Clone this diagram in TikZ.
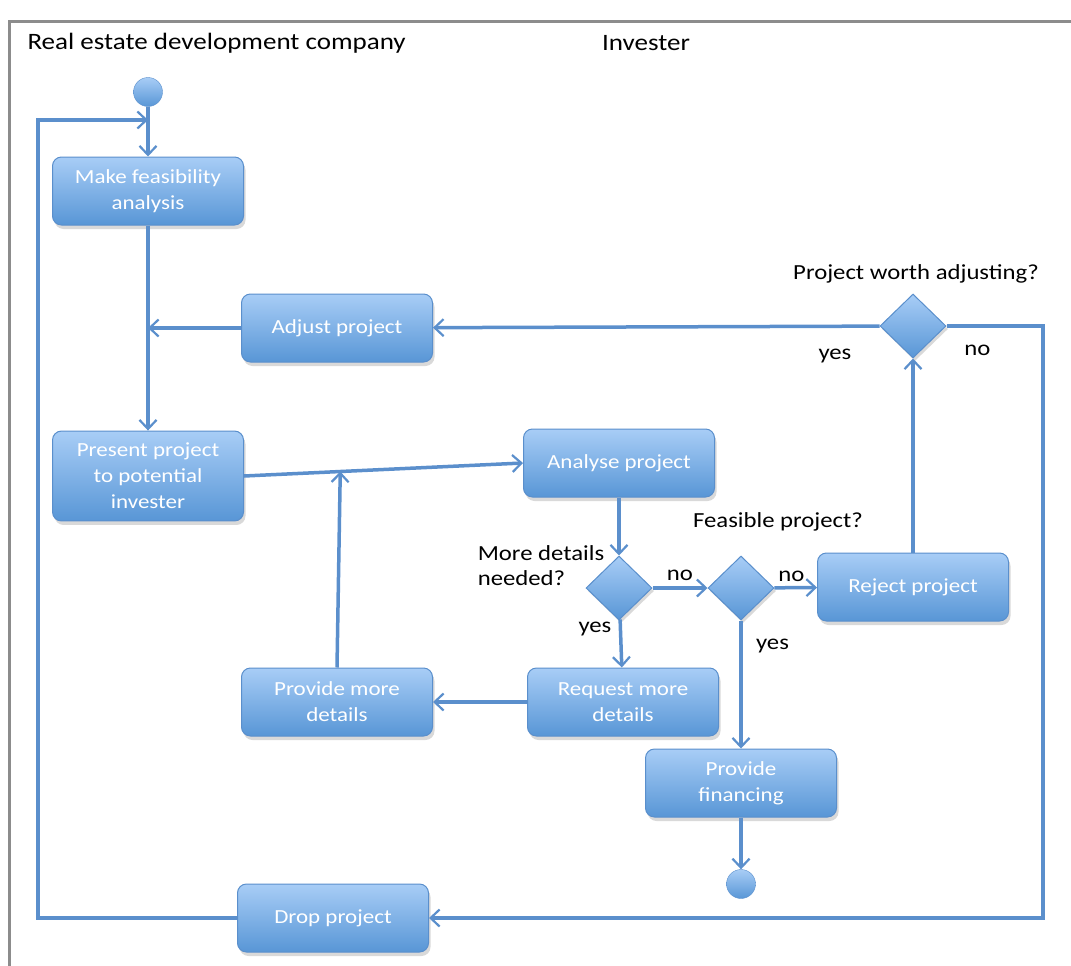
\documentclass[tikz,border=0pt]{standalone}
\usepackage{fontspec}
\setmainfont{Carlito}[FakeStretch=1.15]
\usetikzlibrary{arrows.meta,shapes.geometric,shadows,calc}

\definecolor{acttop}{HTML}{A8CDF6}
\definecolor{actbot}{HTML}{5896D6}
\definecolor{actline}{HTML}{5A8FCC}
\definecolor{flowblue}{HTML}{5B8FCC}
\definecolor{framegray}{HTML}{8C8C8C}

\tikzset{
  act/.style={rectangle,rounded corners=9pt,draw=actline,line width=1pt,
    top color=acttop,bottom color=actbot,text=white,align=center,
    minimum width=191pt,minimum height=68pt,inner sep=12pt,
    font=\fontsize{20}{26}\selectfont,
    drop shadow={opacity=.3,shadow xshift=2pt,shadow yshift=-4pt}},
  dec/.style={diamond,draw=actline,line width=1pt,top color=acttop,bottom color=actbot,
    minimum width=66pt,minimum height=64pt,inner sep=0pt,
    drop shadow={opacity=.3,shadow xshift=2pt,shadow yshift=-3pt}},
  dot/.style={circle,top color=acttop,bottom color=actbot,draw=actline,minimum size=29pt,inner sep=0pt},
  flow/.style={draw=flowblue,line width=3.5pt},
  lane/.style={font=\fontsize{23.5}{28}\selectfont},
  >={Straight Barb[length=9pt,width=17pt,line width=2.2pt]}
}

\begin{document}
\begin{tikzpicture}[x=1pt,y=-1pt,font=\fontsize{21.5}{25}\selectfont]
        \useasboundingbox (0,0) rectangle (1071,966);

        % frame and lanes
        \draw[framegray,line width=3pt] (9,966) -- (9,22) -- (1071,22);
        \node[lane,anchor=west] (lane1) at (24,43) {Real estate development company};
        \node[lane] (lane2) at (646,43) {Invester};

        \begin{scope}[every node/.style={act}]
          \node (1)  at (148,191)  {Make feasibility\\analysis};
          \node (2)  at (337,328)  {Adjust project};
          \node (3)  at (148,476)  {Present project\\to potential\\invester};
          \node (4)  at (619,463)  {Analyse project};
          \node (7)  at (913,587)  {Reject project};
          \node (9)  at (623,702)  {Request more\\details};
          \node (10) at (337,702)  {Provide more\\details};
          \node (11) at (741,783)  {Provide\\financing};
          \node (13) at (333,918)  {Drop project};
        \end{scope}

        \begin{scope}[every node/.style={dec}]
          \node (5) at (619,588) {};
          \node (6) at (741,588) {};
          \node (8) at (913,326) {};
        \end{scope}

        \begin{scope}[every node/.style={dot}]
          \node (0)  at (148,92)  {};
          \node (12) at (741,884) {};
        \end{scope}

        \node[align=left] (q1) at (541,566) {More details\\needed?};
        \node (q2) at (778,522) {Feasible project?};
        \node (q3) at (916,274) {Project worth adjusting?};

        \coordinate (j1) at (148,120);
        \coordinate (j2) at (148,328);
        \coordinate (j3) at ($(3.east)!0.345!(4.west)$);

        \begin{scope}[every edge/.style={flow,->}]
          \path (0)  edge (1);
          \path (1)  edge (3);
          \path (2)  edge (j2);
          \path (3.east) edge (4.west);
          \path (10.north) edge (j3);
          \path (4)  edge (5);
          \path (5)  edge node[above=2pt] {no} (6);
          \path (6)  edge node[above=1pt,pos=.4] {no} (7);
          \path (5)  edge node[left=4pt,pos=.2] {yes} (9);
          \path (9)  edge (10);
          \path (6)  edge node[right=10pt,pos=.2] {yes} (11);
          \path (11) edge (12);
          \path (7)  edge (8);
          \path (8)  edge node[below=18pt,pos=.1] {yes} (2);
        \end{scope}

        \draw[flow,->] (13.west) -| (38,120) -- (j1);
        \draw[flow,->] (8.east) -| node[pos=.16,below=14pt] {no} (1043,918) -- (13.east);

      \end{tikzpicture}
\end{document}
